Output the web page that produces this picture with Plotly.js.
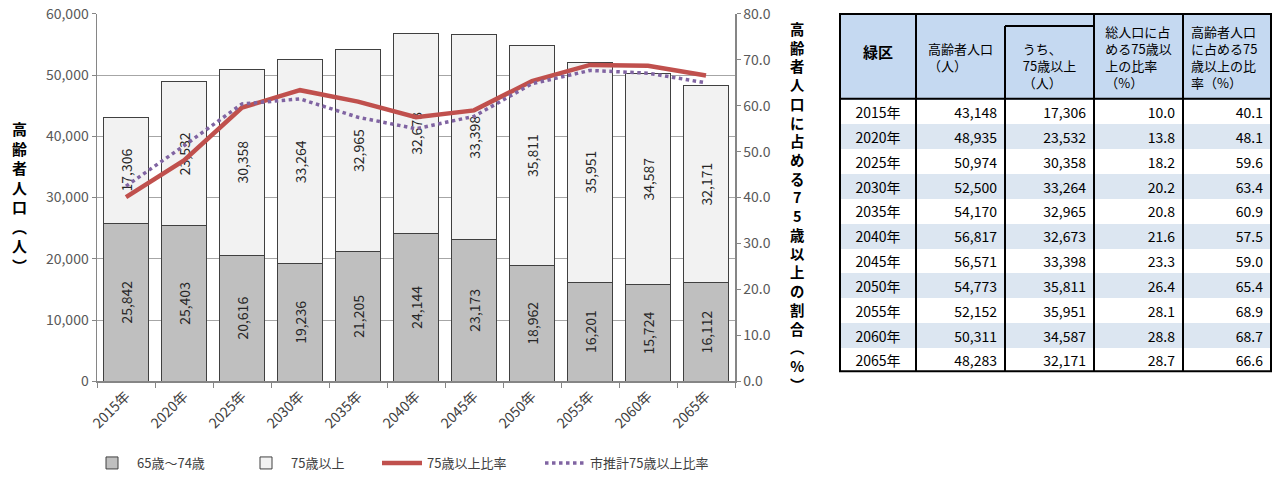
<!DOCTYPE html>
<html>
<head>
<meta charset="utf-8">
<script src="https://cdn.plot.ly/plotly-3.0.1.min.js"></script>
<style>html,body{margin:0;padding:0;background:#fff;}#chart{width:1281px;height:478px;}</style>
</head>
<body>
<div id="chart"></div>
<script>
// ---- data ----
const years = ["2015年","2020年","2025年","2030年","2035年","2040年","2045年","2050年","2055年","2060年","2065年"];
const age65to74 = [25842,25403,20616,19236,21205,24144,23173,18962,16201,15724,16112];
const age75plus = [17306,23532,30358,33264,32965,32673,33398,35811,35951,34587,32171];
const elderlyTotal = [43148,48935,50974,52500,54170,56817,56571,54773,52152,50311,48283];
const share75OfTotal = [10.0,13.8,18.2,20.2,20.8,21.6,23.3,26.4,28.1,28.8,28.7];
const ratio75 = [40.1,48.1,59.6,63.4,60.9,57.5,59.0,65.4,68.9,68.7,66.6];
const cityEstimate75 = [42.5,51.3,60.4,61.5,57.5,55.0,57.7,64.8,67.7,67.1,65.0];

const seriesNames = ["65歳～74歳","75歳以上","75歳以上比率","市推計75歳以上比率"];
const tableHeader = ["\u3000<br><b>緑区</b>","\u3000<br>高齢者人口<br>（人）","\u3000<br>うち、<br>75歳以上<br>（人）","総人口に占<br>める75歳以<br>上の比率<br>（%）","高齢者人口<br>に占める75<br>歳以上の比<br>率（%）"];
const leftTitleChars = ["高","齢","者","人","口","︵","人","︶"];
const rightTitleChars = ["高","齢","者","人","口","に","占","め","る","7","5","歳","以","上","の","割","合","︵","%","︶"];

// ---- layout helpers ----
const W = 1281, H = 478;
const px = x => x / W;
const py = y => 1 - y / H;
const FONT = "Noto Sans CJK JP, Noto Sans, sans-serif";
const fmt = n => n.toLocaleString("en-US");

// table geometry
const TX0 = 840, TX1 = 1271, TY0 = 14, TY1 = 372, HEAD_H = 85;
const colW = [76, 89, 89, 89, 88];
const ROW_H = (TY1 - TY0 - HEAD_H) / years.length;

const traces = [
  {
    type: "bar", name: seriesNames[0], x: years, y: age65to74, legend: "legend",
    marker: {color: "#bfbfbf", line: {color: "#404040", width: 1}},
    text: age65to74.map(fmt), textposition: "inside", insidetextanchor: "middle",
    textangle: -90, constraintext: "none",
    textfont: {family: FONT, size: 14, color: "#262626"}, hoverinfo: "skip"
  },
  {
    type: "bar", name: seriesNames[1], x: years, y: age75plus, legend: "legend2",
    marker: {color: "#f2f2f2", line: {color: "#404040", width: 1}},
    text: age75plus.map(fmt), textposition: "inside", insidetextanchor: "middle",
    textangle: -90, constraintext: "none",
    textfont: {family: FONT, size: 14, color: "#262626"}, hoverinfo: "skip"
  },
  {
    type: "scatter", mode: "lines", name: seriesNames[2], x: years, y: ratio75, yaxis: "y2", legend: "legend3",
    line: {color: "#c0504d", width: 4.5}, hoverinfo: "skip"
  },
  {
    type: "scatter", mode: "lines", name: seriesNames[3], x: years, y: cityEstimate75, yaxis: "y2", legend: "legend4",
    line: {color: "#8064a2", width: 3.5, dash: "dot"}, hoverinfo: "skip"
  },
  {
    type: "table",
    domain: {x: [px(TX0), px(TX1)], y: [py(TY1 + 30), py(TY0)]},
    columnwidth: colW,
    header: {
      values: tableHeader,
      height: HEAD_H,
      align: ["center","center","center","center","left"],
      fill: {color: "#c5d9f1"},
      line: {width: 0, color: "#c5d9f1"},
      font: {family: FONT, size: [15,13,13,13,13], color: "#000"}
    },
    cells: {
      values: [years, elderlyTotal.map(fmt), age75plus.map(fmt), share75OfTotal.map(v => v.toFixed(1)), ratio75.map(v => v.toFixed(1))],
      height: ROW_H,
      align: ["center","right","right","right","right"],
      fill: {color: [years.map((_, i) => i % 2 ? "#dce6f1" : "#ffffff")]},
      line: {width: 0, color: "#ffffff"},
      font: {family: FONT, size: 14, color: "#000"}
    }
  }
];

// table borders
const colX = [TX0];
colW.forEach((w, i) => colX.push(colX[i] + w));
const lineStyle = {color: "#000", width: 2};
const shapes = [
  {type: "rect", xref: "paper", yref: "paper", x0: px(TX0), x1: px(TX1), y0: py(TY1), y1: py(TY0), line: lineStyle},
  {type: "line", xref: "paper", yref: "paper", x0: px(TX0), x1: px(TX1), y0: py(TY0 + HEAD_H), y1: py(TY0 + HEAD_H), line: lineStyle},
  // inner box of "うち、75歳以上"
  {type: "line", xref: "paper", yref: "paper", x0: px(colX[2]), x1: px(colX[3]), y0: py(TY0 + 12), y1: py(TY0 + 12), line: lineStyle}
];
colX.slice(1, -1).forEach((x, i) => {
  const top = (i === 1) ? TY0 + 12 : TY0;
  shapes.push({type: "line", xref: "paper", yref: "paper", x0: px(x), x1: px(x), y0: py(TY1), y1: py(top), line: lineStyle});
});

const legendBase = x => ({
  orientation: "h", x: px(x), y: py(464), xanchor: "left", yanchor: "middle",
  font: {family: FONT, size: 13, color: "#404040"}, itemwidth: 40, bgcolor: "rgba(0,0,0,0)"
});

const layout = {
  width: W, height: H,
  margin: {l: 0, r: 0, t: 0, b: 0},
  paper_bgcolor: "#fff", plot_bgcolor: "#fff",
  font: {family: FONT, size: 14, color: "#595959"},
  barmode: "stack", bargap: 0.22,
  showlegend: true,
  xaxis: {
    domain: [px(97), px(735)], type: "category",
    tickangle: -45, ticks: "outside", tickson: "boundaries", ticklen: 5, tickcolor: "#868686",
    showline: true, linecolor: "#868686", linewidth: 1.5,
    tickfont: {family: FONT, size: 14, color: "#404040"}, automargin: false
  },
  yaxis: {
    domain: [py(382), py(14)], range: [0, 60000], dtick: 10000, tickformat: ",",
    showline: true, linecolor: "#868686", linewidth: 1.5, ticks: "outside", ticklen: 4, tickcolor: "#868686",
    gridcolor: "#a6a6a6", gridwidth: 1, zeroline: false,
    tickfont: {family: FONT, size: 14, color: "#595959"}, automargin: false
  },
  yaxis2: {
    overlaying: "y", side: "right", anchor: "x", range: [0, 80], dtick: 10, tickformat: ".1f",
    showline: true, linecolor: "#868686", linewidth: 1.5, ticks: "outside", ticklen: 4, tickcolor: "#868686",
    showgrid: false, zeroline: false,
    tickfont: {family: FONT, size: 14, color: "#595959"}, automargin: false
  },
  legend: legendBase(87),
  legend2: legendBase(241),
  legend3: legendBase(377),
  legend4: legendBase(540),
  shapes: shapes,
  annotations: [
    {xref: "paper", yref: "paper", x: px(19), y: py(197), xanchor: "center", yanchor: "middle", showarrow: false,
     text: "<b>" + leftTitleChars.join("<br>") + "</b>", font: {family: FONT, size: 15, color: "#000"}},
    {xref: "paper", yref: "paper", x: px(797), y: py(207), xanchor: "center", yanchor: "middle", showarrow: false,
     text: "<b>" + rightTitleChars.join("<br>") + "</b>", font: {family: FONT, size: 14.4, color: "#000"}}
  ]
};

Plotly.newPlot("chart", traces, layout, {staticPlot: true, displayModeBar: false});
</script>
</body>
</html>
